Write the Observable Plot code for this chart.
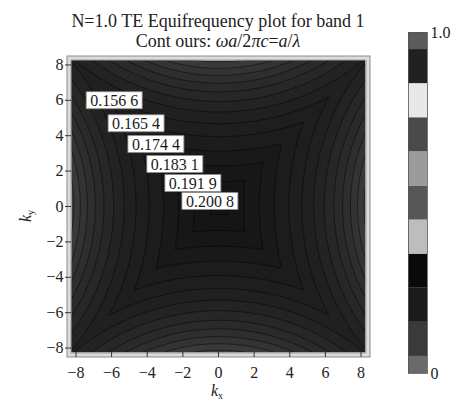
<!DOCTYPE html>
<html>
<head>
<meta charset="utf-8">
<script src="https://cdn.jsdelivr.net/npm/d3@7"></script>
<script src="https://cdn.jsdelivr.net/npm/@observablehq/plot@0.6"></script>
<style>
  body { margin: 0; background: #fff; }
  #chart { position: relative; width: 456px; height: 403px; overflow: hidden;
           font-family: "Liberation Serif", "DejaVu Serif", serif; color: #222; }
  #title { position: absolute; left: 0; top: 11px; width: 436px; text-align: center;
           font-size: 18px; line-height: 20px; white-space: nowrap; }
  .axis-label { position: absolute; font-size: 16px; line-height: 16px; white-space: nowrap; }
  .axis-label sub { font-size: 10px; vertical-align: -3px; }
  #kx { left: 211px; top: 383px; }
  #ky { left: 14px; top: 202px; transform: rotate(-90deg); transform-origin: 12px 8px; }
  #main, #bar { position: absolute; top: 0; }
  #main { left: 0; }
  #bar { left: 380px; }
</style>
</head>
<body>
<div id="chart">
  <div id="main"></div>
  <div id="bar"></div>
  <div id="title">N=1.0 TE Equifrequency plot for band 1<br>Cont ours: <i>ωa</i>/2<i>πc</i>=<i>a</i>/<i>λ</i></div>
  <div class="axis-label" id="kx"><i>k</i><sub>x</sub></div>
  <div class="axis-label" id="ky"><i>k</i><sub>y</sub></div>
</div>
<script>
// Wave-vector window and tick marks (same units on both axes)
const kRange = [-8.25, 8.25];
const kTicks = [-8, -6, -4, -2, 0, 2, 4, 6, 8];

// Γ points of the neighbouring Brillouin zones and their distance from the origin
const gammaX = [18, -18, 0, 0];
const gammaY = [0, 0, 18, -18];
const gammaDist = 18;

// Band-1 frequency fit: ωa/2πc = f0 − b·u − c·u⁴, with u = gammaDist − |k − Γnearest|
const bandF0 = 0.2055;
const bandB = 0.0098;
const bandC = 7e-6;

// Contour levels (ωa/2πc); the labelled ones carry the text shown on the plot
const contourLevels = [0.0947, 0.1036, 0.1124, 0.1213, 0.1301, 0.1390, 0.1478,
                       0.1566, 0.1654, 0.1744, 0.1831, 0.1919, 0.2008];
const labelLevels = [0.1566, 0.1654, 0.1744, 0.1831, 0.1919, 0.2008];
const labelTexts = ["0.156 6", "0.165 4", "0.174 4", "0.183 1", "0.191 9", "0.200 8"];

// Grey ramp used to fill the frequency bands
const fillValues = [0.09, 0.12, 0.15, 0.18, 0.21];
const fillGrays = ["#3e3e3e", "#2c2c2c", "#212121", "#191919", "#121212"];

// Colour bar: value → grey swatch
const barValues = [0, 0.1, 0.2, 0.3, 0.4, 0.5, 0.6, 0.7, 0.8, 0.9, 1.0];
const barGrays = ["#6a6a6a", "#3a3a3a", "#1b1b1b", "#0a0a0a", "#bdbdbd", "#575757",
                  "#9b9b9b", "#4a4a4a", "#e8e8e8", "#212121", "#5b5b5b"];

// ---- frequency surface -------------------------------------------------
function freq(kx, ky) {
  let d = Infinity;
  for (let i = 0; i < gammaX.length; i++) d = Math.min(d, Math.hypot(kx - gammaX[i], ky - gammaY[i]));
  const u = gammaDist - d;
  return bandF0 - bandB * u - bandC * u ** 4;
}

const n = 330;
const step = (kRange[1] - kRange[0]) / (n - 1);
const grid = new Float64Array(n * n);
for (let j = 0; j < n; j++)
  for (let i = 0; i < n; i++)
    grid[j * n + i] = freq(kRange[0] + i * step, kRange[0] + j * step);

const contours = d3.contours().size([n, n]).thresholds(contourLevels)(grid);
const toK = c => kRange[0] + c * step;

const levelStep = contourLevels[1] - contourLevels[0];
const grayAt = d3.scaleLinear().domain(fillValues).range(fillGrays).clamp(true).interpolate(d3.interpolateRgb);

// filled bands (painter's order: each region f ≥ level drawn over the previous)
const fillRows = [];
const lineRows = [];
contours.forEach((c, k) => {
  const hi = k + 1 < contourLevels.length ? contourLevels[k + 1] : contourLevels[k] + levelStep;
  const color = grayAt((contourLevels[k] + hi) / 2);
  c.coordinates.forEach((poly, p) => {
    poly.forEach((ring, r) => {
      ring.forEach(([gx, gy]) => {
        const id = `${k}-${p}-${r}`;
        if (r === 0) fillRows.push({id, kx: toK(gx), ky: toK(gy), color});
        const onEdge = gx <= 0.001 || gy <= 0.001 || gx >= n - 1.001 || gy >= n - 1.001;
        lineRows.push({id, kx: onEdge ? NaN : toK(gx), ky: onEdge ? NaN : toK(gy)});
      });
    });
  });
});
const backgroundColor = grayAt(contourLevels[0] - levelStep / 2);

// label anchors: where each labelled contour crosses a guide line through the upper-left quadrant
const guide = {x0: -0.45, y0: 0.28, dx: -0.686, dy: 0.727};
const labels = labelLevels.map((level, i) => {
  let lo = -2, hi = 10;
  for (let it = 0; it < 60; it++) {
    const mid = (lo + hi) / 2;
    const f = freq(guide.x0 + mid * guide.dx, guide.y0 + mid * guide.dy);
    if (f > level) lo = mid; else hi = mid;
  }
  const t = (lo + hi) / 2;
  return {kx: guide.x0 + t * guide.dx, ky: guide.y0 + t * guide.dy, text: labelTexts[i]};
});

const labelBox = {draw(ctx) { ctx.rect(-28, -8.5, 56, 17); }};
const minus = d => (d < 0 ? "\u2212" + (-d) : String(d));

const main = Plot.plot({
  width: 456,
  height: 403,
  marginLeft: 71,
  marginRight: 91,
  marginTop: 60,
  marginBottom: 51,
  style: {fontFamily: "Liberation Serif, serif", fontSize: "16px", color: "#222", background: "transparent"},
  x: {domain: kRange, ticks: kTicks},
  y: {domain: kRange, ticks: kTicks},
  color: {type: "identity"},
  marks: [
    Plot.frame({fill: backgroundColor, stroke: "none"}),
    Plot.line(fillRows, {x: "kx", y: "ky", z: "id", fill: "color", stroke: "none", clip: true}),
    Plot.line(lineRows, {x: "kx", y: "ky", z: "id", stroke: "#000", strokeOpacity: 0.5, strokeWidth: 0.9, clip: true}),
    Plot.frame({inset: -2.5, stroke: "#dcdcdc", strokeWidth: 4}),
    Plot.frame({inset: -4.5, stroke: "#8a8a8a", strokeWidth: 1}),
    Plot.frame({inset: -0.5, stroke: "#a0a0a0", strokeWidth: 1}),
    Plot.axisX({ticks: kTicks, tickFormat: minus, tickSize: 5, tickPadding: 9, label: null, stroke: "#333"}),
    Plot.axisY({ticks: kTicks, tickFormat: minus, tickSize: 6, tickPadding: 2, label: null, stroke: "#333"}),
    Plot.dot(labels, {x: "kx", y: "ky", symbol: labelBox, fill: "white", stroke: "#8c8c8c", strokeWidth: 0.8, r: 5}),
    Plot.text(labels, {x: "kx", y: "ky", text: "text", fill: "#1a1a1a", fontSize: 16, dy: 1})
  ]
});
document.getElementById("main").appendChild(main);

// colour bar
const bar = Plot.plot({
  width: 76,
  height: 403,
  marginLeft: 28,
  marginRight: 29,
  marginTop: 32,
  marginBottom: 30,
  style: {fontFamily: "Liberation Serif, serif", fontSize: "16px", color: "#222", background: "transparent"},
  x: {domain: [0, 1], axis: null},
  y: {domain: [0, 1]},
  color: {type: "identity"},
  marks: [
    Plot.rect(barValues, {
      x1: 0, x2: 1,
      y1: d => Math.max(0, d - 0.05),
      y2: d => Math.min(1, d + 0.05),
      fill: (d, i) => barGrays[i]
    }),
    Plot.frame({stroke: "#555", strokeWidth: 0.8}),
    Plot.axisY({anchor: "right", ticks: [0, 1], tickFormat: d => (d === 1 ? "1.0" : "0"),
                tickSize: 0, tickPadding: 3, label: null})
  ]
});
document.getElementById("bar").appendChild(bar);
</script>
</body>
</html>
